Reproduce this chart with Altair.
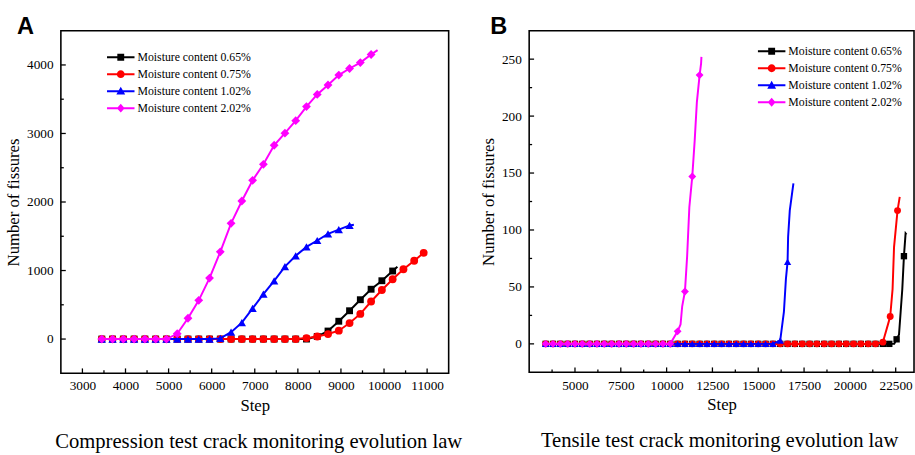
import altair as alt
import pandas as pd

SERIES = ["Moisture content 0.65%", "Moisture content 0.75%",
          "Moisture content 1.02%", "Moisture content 2.02%"]
COLORS = ["#000000", "#ff0000", "#0000ff", "#ff00ff"]
SHAPES = ["square", "circle", "triangle-up", "diamond"]
# legend symbols: line segment + marker (unit = 9 px, symbol centre at 9 px)
LEGEND_PATHS = [
    "M-1,-0.111L2.111,-0.111L2.111,0.111L-1,0.111Z M0.167,-0.389L0.944,-0.389L0.944,0.389L0.167,0.389Z",
    "M-1,-0.111L2.111,-0.111L2.111,0.111L-1,0.111Z M1,0A0.444,0.444 0 1,1 0.111,0A0.444,0.444 0 1,1 1,0Z",
    "M-1,-0.111L2.111,-0.111L2.111,0.111L-1,0.111Z M0.556,-0.5L1.056,0.389L0.056,0.389Z",
    "M-1,-0.111L2.111,-0.111L2.111,0.111L-1,0.111Z M0.556,-0.5L1,0L0.556,0.5L0.111,0Z",
]

# ---------------- Panel A (compression) ----------------
A_STEPS = [3450, 3700, 3950, 4200, 4450, 4700, 4950, 5200, 5450, 5700, 5950, 6200,
           6450, 6700, 6950, 7200, 7450, 7700, 7950, 8200, 8450, 8700, 8950, 9200,
           9450, 9700, 9950, 10200, 10450, 10700, 10920]

A_BLACK = [0, 0, 0, 0, 0, 0, 0, 0, 0, 0, 0, 0, 0, 0, 0, 0, 0, 0, 0, 0,
           38, 117, 260, 413, 574, 727, 851, 993]
A_RED = [0, 0, 0, 0, 0, 0, 0, 0, 0, 0, 0, 0, 0, 0, 0, 0, 0, 0, 0,
         14, 38, 73, 122, 233, 367, 548, 716, 873, 1019, 1142, 1258]
A_BLUE = [0, 0, 0, 0, 0, 0, 0, 0, 0, 0, 0, 10, 100, 240, 447, 655, 850, 1057,
          1215, 1345, 1438, 1536, 1598, 1658]
A_MAGENTA = [0, 0, 0, 0, 0, 0, 0, 77, 303, 565, 890, 1273, 1689, 2014, 2316, 2550,
             2828, 3005, 3187, 3393, 3570, 3708, 3852, 3948, 4034, 4153]
# line tails beyond the last marker (step, value)
A_TAIL_STEPS = [10310, None, 9300, 9850]
A_TAIL_VALUES = [1056, None, 1668, 4216]

A_XTICKS = [3000, 4000, 5000, 6000, 7000, 8000, 9000, 10000, 11000]
A_XMINOR = [3500, 4500, 5500, 6500, 7500, 8500, 9500, 10500]
A_YTICKS = [0, 1000, 2000, 3000, 4000]
A_YMINOR = [500, 1500, 2500, 3500]

# ---------------- Panel B (tensile) ----------------
B_STEPS = [3400, 3800, 4200, 4600, 5000, 5400, 5800, 6200, 6600, 7000, 7400, 7800,
           8200, 8600, 9000, 9400, 9800, 10200, 10600, 11000, 11400, 11800, 12200,
           12600, 13000, 13400, 13800, 14200, 14600, 15000, 15400, 15800, 16200,
           16600, 17000, 17400, 17800, 18200, 18600, 19000, 19400, 19800, 20200,
           20600, 21000, 21400, 21800, 22200, 22600]

B_BLACK_STEPS = B_STEPS[:47] + [22150, 22550, 22950]
B_BLACK = [0] * 47 + [0, 4, 77]
B_RED = [0] * 46 + [1.5, 24, 117]
B_BLUE = [0] * 32 + [3, 72]
B_MAGENTA = [0] * 18 + [11, 46, 147, 236]

# extra (unmarked) points along the curves
B_EXTRA_BLACK_S = [22420, 22680, 22770, 22860, 23040, 23090]
B_EXTRA_BLACK_V = [0, 8, 28, 48, 97, 96]
B_EXTRA_RED_S = [22060, 22330, 22410, 22720]
B_EXTRA_RED_V = [16, 48, 85, 129]
B_EXTRA_BLUE_S = [16400, 16510, 16630, 16720, 16860, 16920]
B_EXTRA_BLUE_V = [28, 57, 94, 117, 134, 141]
B_EXTRA_MAG_S = [10760, 10850, 11120, 11240, 11530, 11650, 11880, 11900]
B_EXTRA_MAG_V = [17, 33, 77, 120, 178, 212, 246, 252]

B_XTICKS = [5000, 7500, 10000, 12500, 15000, 17500, 20000, 22500]
B_XMINOR = [3750, 6250, 8750, 11250, 13750, 16250, 18750, 21250]
B_YTICKS = [0, 50, 100, 150, 200, 250]
B_YMINOR = [25, 75, 125, 175, 225]

SERIF = "Liberation Serif"


def build_frames(marker_sets, extra_sets):
    line_rows, mark_rows = [], []
    for name, (steps, vals), (es, ev) in zip(SERIES, marker_sets, extra_sets):
        pts = []
        for s, v in zip(steps, vals):
            mark_rows.append({"series": name, "step": s, "value": v})
            pts.append((s, v))
        for s, v in zip(es, ev):
            if s is not None:
                pts.append((s, v))
        pts.sort(key=lambda p: p[0])
        for s, v in pts:
            line_rows.append({"series": name, "step": s, "value": v})
    return pd.DataFrame(line_rows), pd.DataFrame(mark_rows)


def panel(line_df, mark_df, xdom, ydom, xt, xm, yt, ym, w, h, letter, caption,
          leg_x, leg_y, cap_dx, msizes, letter_x):
    xs = alt.Scale(domain=xdom, nice=False, zero=False)
    ys = alt.Scale(domain=ydom, nice=False, zero=False)
    axis_common = dict(grid=False, domain=False, ticks=False, tickSize=0,
                       labelFont=SERIF, labelFontSize=13.5, labelColor="black",
                       titleFont=SERIF, titleFontSize=17, titleFontWeight="normal",
                       titleColor="black", labelOverlap=False, labelFlush=False)
    x_ax = alt.X("step:Q", scale=xs, title="Step",
                 axis=alt.Axis(values=xt, labelPadding=6, titlePadding=5, format="d",
                               **axis_common))
    y_ax = alt.Y("value:Q", scale=ys, title="Number of fissures",
                 axis=alt.Axis(values=yt, labelPadding=8, titlePadding=4, format="d",
                               **axis_common))

    layers = []
    for i, name in enumerate(SERIES):
        ld = line_df[line_df.series == name]
        md = mark_df[mark_df.series == name]
        layers.append(alt.Chart(ld).mark_line(color=COLORS[i], strokeWidth=2)
                      .encode(x=x_ax, y=y_ax, order="step:Q"))
        layers.append(alt.Chart(md).mark_point(shape=SHAPES[i], filled=True,
                                               color=COLORS[i], opacity=1,
                                               size=msizes[i])
                      .encode(x=x_ax, y=y_ax))
    # legend-only layer
    legend_layer = alt.Chart(mark_df).mark_point(filled=True, opacity=1).encode(
        x=x_ax, y=y_ax,
        color=alt.Color("series:N", scale=alt.Scale(domain=SERIES, range=COLORS),
                        legend=alt.Legend(orient="none", legendX=leg_x, legendY=leg_y,
                                          title=None, labelFont=SERIF, labelFontSize=12,
                                          labelColor="black", symbolSize=324,
                                          symbolStrokeWidth=0, symbolOpacity=1,
                                          labelOffset=13, rowPadding=2.3, padding=0)),
        shape=alt.Shape("series:N", scale=alt.Scale(domain=SERIES, range=LEGEND_PATHS)),
    ).transform_filter("false")
    layers.append(legend_layer)

    # inward ticks
    tick_style = dict(color="black", strokeWidth=1.3)
    layers.append(alt.Chart(pd.DataFrame({"step": xt})).mark_rule(**tick_style)
                  .encode(x=x_ax, y=alt.value(h), y2=alt.value(h - 5)))
    layers.append(alt.Chart(pd.DataFrame({"step": xm})).mark_rule(**tick_style)
                  .encode(x=x_ax, y=alt.value(h), y2=alt.value(h - 3)))
    layers.append(alt.Chart(pd.DataFrame({"value": yt})).mark_rule(**tick_style)
                  .encode(y=y_ax, x=alt.value(0), x2=alt.value(5)))
    layers.append(alt.Chart(pd.DataFrame({"value": ym})).mark_rule(**tick_style)
                  .encode(y=y_ax, x=alt.value(0), x2=alt.value(3)))
    # panel letter
    layers.append(alt.Chart(pd.DataFrame({"t": [letter]})).mark_text(
        font="Liberation Sans", fontSize=24, fontWeight="bold", color="black",
        align="center", baseline="alphabetic").encode(
        text="t:N", x=alt.value(letter_x), y=alt.value(3)))

    return alt.layer(*layers).properties(
        width=w, height=h,
        title=alt.TitleParams(caption, orient="bottom", font=SERIF, fontSize=21,
                              fontWeight="normal", color="black", offset=19,
                              anchor="middle", frame="group", dx=cap_dx))


a_line, a_mark = build_frames(
    [(A_STEPS[:len(A_BLACK)], A_BLACK), (A_STEPS[:len(A_RED)], A_RED),
     (A_STEPS[:len(A_BLUE)], A_BLUE), (A_STEPS[:len(A_MAGENTA)], A_MAGENTA)],
    [([A_TAIL_STEPS[0]], [A_TAIL_VALUES[0]]), ([], []),
     ([A_TAIL_STEPS[2]], [A_TAIL_VALUES[2]]), ([A_TAIL_STEPS[3]], [A_TAIL_VALUES[3]])])

b_line, b_mark = build_frames(
    [(B_BLACK_STEPS, B_BLACK), (B_STEPS[:len(B_RED)], B_RED),
     (B_STEPS[:len(B_BLUE)], B_BLUE), (B_STEPS[:len(B_MAGENTA)], B_MAGENTA)],
    [(B_EXTRA_BLACK_S, B_EXTRA_BLACK_V), (B_EXTRA_RED_S, B_EXTRA_RED_V),
     (B_EXTRA_BLUE_S, B_EXTRA_BLUE_V), (B_EXTRA_MAG_S, B_EXTRA_MAG_V)])

left = panel(a_line, a_mark, [2500, 11500], [-500, 4500], A_XTICKS, A_XMINOR,
             A_YTICKS, A_YMINOR, 395, 349, "A",
             "Compression test crack monitoring evolution law", 47, 18, 4,
             [49, 64, 72, 81], -36)
right = panel(b_line, b_mark, [2500, 23500], [-25, 275], B_XTICKS, B_XMINOR,
              B_YTICKS, B_YMINOR, 392, 348, "B",
              "Tensile test crack monitoring evolution law", 233, 12, -2,
              [42, 49, 56, 64], -31)

chart = alt.hconcat(left, right, spacing=15).resolve_scale(
    color="independent", shape="independent", x="independent", y="independent"
).properties(
    padding={"left": 4, "top": 10, "right": 0, "bottom": 0}
).configure_view(stroke="black", strokeWidth=1.6)

chart.save("out.html", embed_options={"renderer": "svg", "actions": False})
